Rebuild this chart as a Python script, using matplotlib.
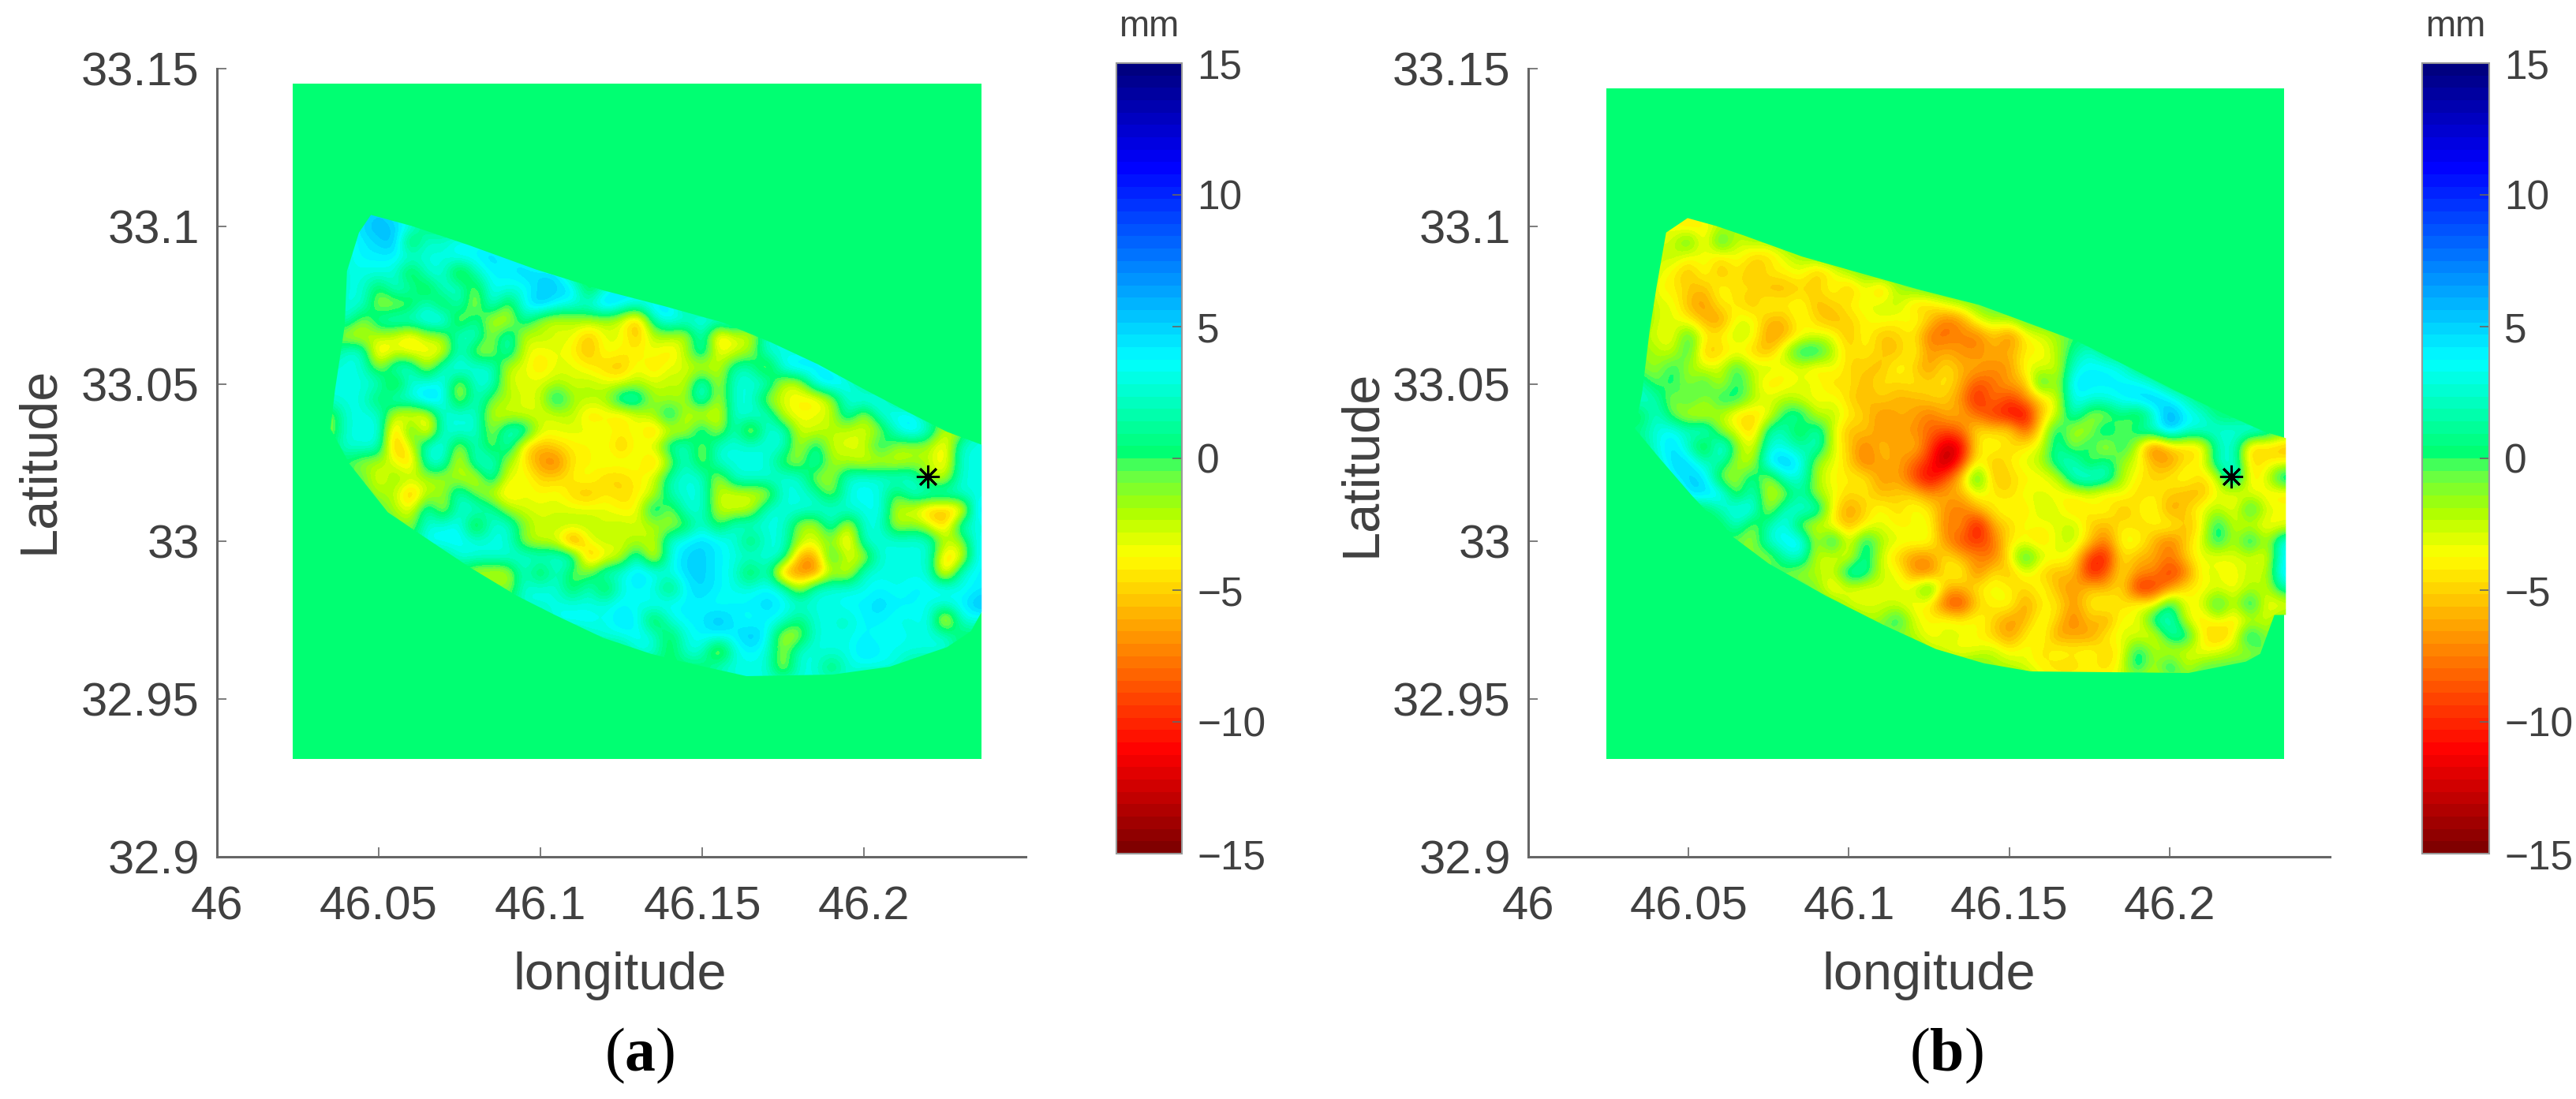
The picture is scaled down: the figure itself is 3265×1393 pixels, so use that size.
import numpy as np
import matplotlib
matplotlib.use("Agg")
import matplotlib.pyplot as plt
from matplotlib.colors import LinearSegmentedColormap, Normalize
from matplotlib.patches import Polygon

W, H = 3265, 1393
plt.rcParams["font.family"] = ["Liberation Sans", "DejaVu Sans"]
plt.rcParams["mathtext.fontset"] = "custom"
plt.rcParams["mathtext.bf"] = "Liberation Serif:bold"
plt.rcParams["mathtext.rm"] = "Liberation Serif"

# ================================
# Data
# ================================
x_ticks = [46, 46.05, 46.1, 46.15, 46.2]
x_labels = ["46", "46.05", "46.1", "46.15", "46.2"]
y_ticks = [32.9, 32.95, 33, 33.05, 33.1, 33.15]
y_labels = ["32.9", "32.95", "33", "33.05", "33.1", "33.15"]
cbar_ticks = [-15, -10, -5, 0, 5, 10, 15]

# grid of the estimated displacement (mm): lon 46.035..46.235, lat 33.105..32.955, step 0.005
grid_lon = (46.035, 46.235)
grid_lat = (33.105, 32.955)
n_cols = 41

# each row: index of first column, then the values (rest of the row is 0)
rows_a = [
    (2, [4, 5, 4]),
    (1, [3, 5, 6, 5, 4]),
    (1, [3, 4, 5, 6, -2, 3, 2, 4, 3, 4]),
    (1, [3, 4, 4, 4, 3, 3, 3, 4, 4, 5, 4, 4]),
    (1, [3, 3, 3, 3, -2, 3, 3, -3, 2, 4, 4, 5, 5, 5]),
    (1, [3, 3, -1, 3, 2, -2, 3, 3, -2, 4, 3, 3, 5, 5, 5, -2, 3, 5, 4]),
    (0, [3, 3, 3, -2, -2, -1, 3, -2, 3, -3, 4, -2, 4, 6, 4, 3, 3, 6, 4, 3, 5, 5]),
    (1, [3, -2, 2, 3, 3, 4, 5, -3, 2, -3, -3, 2, -2, -3, -2, -2, -2, -3, -7, 2, 4, 3, 4, 3, 5]),
    (1, [-3, -3, -2, -3, -5, -2, -2, 3, 3, -2, 3, -3, -2, -3, -3, -6, -3, -3, -6, -2, -2, -3, 3, -6, -3, -3, 3, 3]),
    (1, [3, 3, -6, -3, -4, -4, -4, 3, -2, -2, 3, -3, -4, -3, -4, -6, -3, -4, -4, -3, -5, -2, 3, -4, -3, -2, 3, 3, 3, 4]),
    (0, [3, 3, 3, -2, 3, 3, -3, 3, 4, 3, 3, -3, -3, -5, -3, -3, -4, -5, -6, -3, -5, -3, -3, -3, -3, 2, 2, -3, 4, 5, 4, 4]),
    (0, [3, 3, 3, 3, -3, 3, 3, 4, -3, 3, 3, -3, -3, -3, -2, -3, -2, -3, -3, -2, -3, -2, -3, 4, -3, 3, 3, 3, -3, -3, 4, 5, 4]),
    (0, [3, 3, 3, -1, 3, 3, 6, 4, -3, 3, -1, -2, -3, -3, 3, -2, -2, -2, 3, 3, -2, -2, -2, 4, -3, 3, 3, -2, -3, -4, -5, -2, 3, 4, 4]),
    (0, [-2, 3, 3, 3, -3, -4, -4, 3, 3, 3, -3, -3, -3, -3, -3, -2, -5, -4, -5, -3, -2, 3, -3, -3, -4, 3, 3, 3, -3, -4, -3, -3, 3, -3, 3, 4, 4]),
    (0, [-2, 3, 3, 4, -7, 2, -6, 3, 3, 3, -2, 3, 3, -3, -3, -3, -3, -3, -4, -3, -6, -3, -3, 3, -3, 3, -4, 3, 3, -3, -3, -2, -3, -3, -2, 3, 5, 3, -3, -2, 3]),
    (1, [3, 3, 3, -7, -3, 3, 4, -3, 3, -2, 3, -5, -6, -5, -4, -4, -3, -6, -3, -3, 2, 3, -2, 3, 3, 3, 3, 3, -3, 2, -3, -3, -3, 2, -2, -2, -2, -5, 3, 3]),
    (2, [-2, -2, -3, -6, 3, 3, -4, 3, 3, -2, -4, -7, -8, -4, -4, -3, -3, -3, -6, -2, 3, -2, 3, 3, 3, 3, -1, -2, 3, -2, -2, -3, -3, -3, -2, -2, -5, 3, 3]),
    (3, [-4, -1, -2, -2, -2, -2, -4, 3, -4, -3, -5, -5, -4, -3, -5, -5, -4, -3, 2, 3, 3, -3, 3, 3, 3, 3, 3, -2, -2, 3, 3, 3, 3, 3, -2, -3, 3, 3]),
    (3, [-2, -2, -7, -2, -2, 3, -1, -3, -5, -3, -4, -3, -5, -6, -4, -5, -4, -3, 2, 3, 3, -3, -3, -3, -3, 3, 3, 2, -2, 3, 4, 3, -1, 3, 3, 3, 3, 3]),
    (4, [-2, -4, 3, -3, 3, 3, 2, -2, -3, -3, -3, -3, -3, -3, -4, -4, 3, -2, 3, 3, -3, -3, -3, 3, 3, 3, 3, 3, 3, 3, 4, -3, -3, -6, -6, -6, 5]),
    (5, [-2, 3, 3, 4, -3, 3, 3, -1, -3, -2, -2, -2, -3, -2, -3, -2, -2, -1, 3, -1, 3, 3, 3, 3, -2, -3, 3, -4, 3, 3, -3, -1, -3, -6, 3, 3]),
    (6, [4, 4, 4, 3, 3, 3, -2, -3, -3, -9, -3, -2, -3, -2, -3, 3, 4, 5, 4, 3, -1, 3, 3, -2, -3, -1, -6, 3, 3, 3, 3, 3, -2, -2, 4]),
    (8, [3, 3, 3, 3, 3, 3, 3, 3, -7, -4, -3, 3, -5, 3, 5, 5, 4, 3, 3, 3, 3, -7, -7, 2, -3, -3, 3, 3, 3, 3, -6, -4, 4]),
    (9, [-3, -3, -3, 3, -2, 3, -1, -1, 3, 3, 5, 4, 3, 5, 5, 4, 3, -2, 3, -8, -7, -8, -2, -4, 3, 3, 3, 3, 3, -6, 3, 4]),
    (11, [-2, 3, 3, 3, -1, 3, -2, 3, 4, 3, -1, 4, 5, 4, 3, 3, 4, 3, -3, 3, 3, 3, 3, 4, 3, 4, 4, 4, 3, 4]),
    (12, [3, 3, 3, 3, 3, 3, 4, 3, 4, 4, 4, 4, 3, 4, 4, 5, 4, 3, 3, 3, 4, 4, 5, 4, 4, 3, 3, 4, 6]),
    (14, [4, 4, 4, 3, 5, 4, -2, 3, 4, 4, 6, 4, 3, 4, 3, 0, 3, 3, 2, 4, 4, 3, 3, 4, -6, 3, 3]),
    (16, [2, 3, 3, 4, 3, -1, 3, 4, 4, 4, 6, 4, -3, -2, 3, 3, 3, 4, 3, 4, 3, 3, 3]),
    (19, [3, 3, -1, 3, 3, -4, 3, 4, 3, -2, 3, 3, 3, 3, 5, 4, 3, 3, 3, 3]),
    (24, [3, 3, 3, 3, -3, 3, 3, -1, 3, 3, 3, 3]),
    (25, [3, 3, 3, 3, 3, 3, 3, 3]),
]

rows_b = [
    (2, [-3, -4, -3]),
    (1, [-3, -4, -5, -4, -3, -2]),
    (1, [-3, -3, 1, -5, 2, -3, -2, -2, -1]),
    (1, [-3, -2, -4, -3, -5, -3, -5, -5, -3, -2, -1]),
    (1, [-3, -4, -6, -3, -6, -4, -6, -4, -4, -3, -6, -4, -2, -1]),
    (1, [-4, -4, -5, -6, -3, -5, -4, -6, -6, -5, -5, -3, -6, -3, -6, -2, -1]),
    (1, [-3, -3, -6, -7, -4, -4, -6, -3, -4, -3, -6, -5, -4, -3, -3, -2, -5, -5, -3, -2, -1]),
    (1, [-3, -3, -4, -6, -7, -3, -3, -6, -6, -3, -5, -6, -5, -4, -3, -4, -3, -5, -8, -7, -3, -2, -2]),
    (0, [-2, -3, -4, 1, -4, -4, -2, -3, -7, -6, -4, -3, -3, -6, -3, -6, -5, -4, -8, -8, -7, -8, -5, -8, -4, -3, -2]),
    (0, [-1, -2, -3, 1, -6, -5, -4, -5, -6, -2, 2, 2, -2, -5, -4, -5, -6, -3, -7, -6, -7, -7, -6, -6, -4, -4, -2, 1, 3]),
    (0, [-1, -2, 1, -2, -3, -3, 1, -3, -2, -4, -3, -5, -3, -5, -5, -6, -3, -5, -7, -4, -6, -6, -7, -7, -3, -3, -3, 3, 4, 4, 3]),
    (0, [2, -1, 1, -2, 1, -3, 1, -2, -5, -4, -3, -3, -5, -4, -6, -4, -5, -4, -5, -4, -6, -9, -8, -6, -6, 2, -3, 5, 4, 4, 4, 4, 2]),
    (0, [3, 2, -2, 1, -2, 1, 1, -2, -3, -2, -3, -4, -3, -5, -6, -5, -6, -6, -5, -5, -7, -11, -7, -10, -7, -5, -3, 4, 3, 3, 4, 5, 6, 4, 2]),
    (0, [-1, 3, -1, -3, -3, -2, -5, -5, -4, 1, 2, -3, -2, -4, -5, -7, -6, -6, -8, -6, -6, -8, -10, -11, -12, -5, -3, 3, -2, -2, 1, -2, 2, 7, 4, 3]),
    (0, [1, 3, 4, 2, 4, -2, -3, -6, 2, 2, -2, 3, -3, -6, -5, -7, -6, -7, -8, -9, -8, -4, -5, -4, -9, -4, 2, -3, -2, 3, -2, 2, 3, 6, 3, 3, 3, 3, 4, 3]),
    (0, [0, 3, 5, 2, -3, 5, -1, -4, 3, 3, 1, 3, -3, -5, -8, -5, -7, -5, -9, -13, -12, -4, -3, -5, -4, -3, 2, -2, 2, -4, 2, -3, -9, -5, -5, -5, 2, 3, -6, -5, -6]),
    (1, [2, 5, 5, 2, 2, -2, -3, 5, 6, 4, -2, -3, -5, -8, -6, -6, -8, -10, -14, -10, -3, -6, -4, -3, -2, 2, 3, -2, 2, -2, -3, -6, -7, -4, -4, 3, 3, -5, -4, -4]),
    (2, [4, 5, 5, -2, -2, 2, -3, 3, 3, -2, -4, -4, -4, -7, -6, -9, -12, -9, -5, 2, -6, -5, -4, -4, -3, 3, 4, 3, -2, -4, -5, -4, -3, -5, -3, 5, -5, -3, 3]),
    (3, [5, 5, 5, -2, 3, -3, -2, 2, -2, -3, -5, -4, -6, -5, -5, -7, -6, -6, -3, -4, -5, -3, -3, -4, -4, -3, -5, -3, -5, -4, -5, -6, -6, -3, -4, -3, -4, -5]),
    (3, [0, -1, 2, 4, 4, -3, 3, 3, 3, -4, -7, -5, -3, -5, -3, -4, -7, -8, -6, -4, -3, -5, -2, -3, -5, -4, -3, -6, -4, -3, -7, -5, -3, -2, -4, 2, -3, -3]),
    (4, [0, -1, 3, -2, 2, 4, -2, -3, -4, -6, -4, -3, -4, -4, -3, -8, -6, -12, -6, -5, -3, -4, -3, -2, -5, -6, -4, -5, -4, -3, -6, -4, 2, -3, -3, -4, -4]),
    (5, [0, -1, -2, 3, 4, 5, -3, 3, -4, 2, -2, -3, -3, -3, -7, -9, -10, -8, -4, -4, -5, -3, -2, -5, -8, -3, -3, -6, -8, -5, -3, 2, -3, 3, -3, 4]),
    (7, [-1, -2, 2, 3, -3, -3, -4, 2, -3, -5, -7, -7, -4, -6, -7, -8, -4, 2, -3, -3, -4, -10, -11, -4, -6, -6, -8, -5, -3, -4, -3, -3, -4, 4]),
    (9, [-1, -2, -2, -3, 3, 2, -3, -3, -7, -8, -4, -3, -8, -4, -6, -3, -5, -6, -5, -11, -9, -4, -7, -7, -10, -8, -3, -3, -4, -2, -3, 5]),
    (11, [-1, -5, -3, -4, -3, -3, -3, 2, -6, -6, -4, -3, -4, -5, -3, -6, -7, -5, -6, -4, -11, -10, -7, -4, -4, -3, -4, -2, -3, 2]),
    (13, [-3, -3, -3, -3, -4, -4, -9, -10, -5, -4, -3, -7, -4, -4, -7, -4, -3, -5, -3, -4, 2, -4, -3, 2, -3, 3, -4, -4]),
    (14, [-2, -2, 2, -3, -4, -3, -4, -3, -5, -7, -6, -3, -5, -8, -5, -7, -3, -4, 2, 3, -3, -5, -3, -5, -3, -3]),
    (16, [-2, -2, -4, -3, -3, -4, -5, -7, -4, -3, -7, -6, -7, -4, -3, -3, -4, 2, 2, -4, -6, -4, 3, -2]),
    (18, [-2, -3, -4, -3, -2, -4, -3, -5, -3, -4, -3, -5, -4, 2, -2, -3, -3, -4, -3, -2, -2]),
    (22, [-2, -2, -3, -4, -5, -5, -4, -5, -3, 2, -3, 3, -3]),
    (25, [-3, -3, -3, -3, -3, -3, -3, -3, -3]),
]

# outline of the covered area (lon, lat)
outline_a = [
    (46.0476, 33.1036), (46.0602, 33.1001), (46.0779, 33.0940), (46.0986, 33.0863),
    (46.1193, 33.0797), (46.1385, 33.0746), (46.1563, 33.0695), (46.1710, 33.0633),
    (46.1858, 33.0562), (46.2006, 33.0480), (46.2139, 33.0409), (46.2257, 33.0348),
    (46.2364, 33.0307), (46.2364, 32.9777), (46.2331, 32.9716), (46.2257, 32.9665),
    (46.2080, 32.9603), (46.1903, 32.9578), (46.1637, 32.9573), (46.1459, 32.9614),
    (46.1341, 32.9644), (46.1193, 32.9695), (46.1045, 32.9767), (46.0927, 32.9828),
    (46.0779, 32.9920), (46.0646, 33.0011), (46.0528, 33.0093), (46.0410, 33.0246),
    (46.0351, 33.0358), (46.0365, 33.0481), (46.0395, 33.0685), (46.0402, 33.0858),
    (46.0439, 33.0980),
]
outline_b = [
    (46.0497, 33.1026), (46.0586, 33.1001), (46.0675, 33.0970), (46.0854, 33.0904),
    (46.1048, 33.0848), (46.1226, 33.0797), (46.1405, 33.0751), (46.1568, 33.0690),
    (46.1717, 33.0633), (46.1866, 33.0557), (46.2015, 33.0480), (46.2163, 33.0409),
    (46.2297, 33.0348), (46.2363, 33.0328), (46.2363, 32.9767), (46.2327, 32.9767),
    (46.2283, 32.9644), (46.2238, 32.9619), (46.2059, 32.9583), (46.1568, 32.9588),
    (46.1420, 32.9614), (46.1271, 32.9659), (46.1107, 32.9736), (46.0928, 32.9828),
    (46.0750, 32.9930), (46.0616, 33.0032), (46.0512, 33.0144), (46.0408, 33.0266),
    (46.0333, 33.0358), (46.0355, 33.0470), (46.0378, 33.0664), (46.0400, 33.0807),
    (46.0430, 33.0980),
]

# reference station and extent of the green frame
star_a = (46.2198, 33.0205)
star_b = (46.2193, 33.0205)
frame_a = (46.0235, 46.2363, 32.931, 33.145)
frame_b = (46.0243, 46.2355, 32.931, 33.1435)


def build_grid(rows):
    out = np.zeros((len(rows), n_cols))
    for i, (start, vals) in enumerate(rows):
        out[i, start:start + len(vals)] = vals
    return out


# ================================
# Colormap: jet reversed, with the step just under 0 seen in the colorbar
# ================================
stops = [
    (-15, "#800000"), (-11.25, "#ff0000"), (-7.5, "#ff8000"), (-3.75, "#ffff00"),
    (-2, "#aaff00"), (-0.3, "#55ff55"), (0, "#00ff69"), (3.75, "#00ffff"),
    (11.25, "#0000ff"), (15, "#000080"),
]
cmap = LinearSegmentedColormap.from_list("map", [((v + 15) / 30, c) for v, c in stops], N=64)
norm = Normalize(-15, 15)

TEXT = "#404040"
LINE = "#666666"


def box(x0, y0, x1, y1):
    return [x0 / W, 1 - y1 / H, (x1 - x0) / W, (y1 - y0) / H]


def draw_panel(ax_box, cax_box, rows, outline, star, frame, tag, lon_c, lat_y_c, tag_c):
    ax = fig.add_axes(box(*ax_box))
    ax.imshow(np.zeros((2, 2)), extent=frame, cmap=cmap, norm=norm, aspect="auto")
    half = 0.0025
    im = ax.imshow(
        build_grid(rows),
        extent=(grid_lon[0] - half, grid_lon[1] + half, grid_lat[1] - half, grid_lat[0] + half),
        cmap=cmap, norm=norm, aspect="auto", interpolation="bicubic",
    )
    clip = Polygon(outline, transform=ax.transData, fill=False, edgecolor="none")
    ax.add_patch(clip)
    im.set_clip_path(clip)
    ax.plot(*star, marker=(8, 2, 0), ms=21, mew=2, color="black", ls="none")

    ax.set_xlim(46, 46.25)
    ax.set_ylim(32.9, 33.15)
    ax.set_xticks(x_ticks, x_labels)
    ax.set_yticks(y_ticks, y_labels)
    ax.spines["top"].set_visible(False)
    ax.spines["right"].set_visible(False)
    for s in ("left", "bottom"):
        ax.spines[s].set_color(LINE)
        ax.spines[s].set_linewidth(2.2)
    ax.tick_params(axis="x", direction="in", length=8.5, width=1.2, color=LINE,
                   labelsize=43, labelcolor=TEXT, pad=26)
    ax.tick_params(axis="y", direction="in", length=8.5, width=1.2, color=LINE,
                   labelsize=43, labelcolor=TEXT, pad=16)

    cax = fig.add_axes(box(*cax_box))
    cb = fig.colorbar(im, cax=cax, ticks=cbar_ticks)
    cb.outline.set_edgecolor("#999999")
    cb.outline.set_linewidth(1.5)
    cax.tick_params(direction="in", length=8.5, width=1.2, color=LINE,
                    labelsize=37, labelcolor=TEXT, pad=14)
    fig.text((cax_box[0] + cax_box[2]) / 2 / W, 1 - 34 / H, "mm", fontsize=33,
             color=TEXT, ha="center", va="center")

    fig.text(lon_c / W, 1 - 1237 / H, "longitude", fontsize=48, color=TEXT, ha="center", va="center")
    fig.text(lat_y_c[0] / W, 1 - lat_y_c[1] / H, "Latitude", fontsize=48, color=TEXT,
             rotation=90, ha="center", va="center")
    fig.text(tag_c / W, 1 - 1338 / H, "($\\mathbf{" + tag + "}$)", fontsize=56,
             family="Liberation Serif", color="black", ha="center", va="center")


fig = plt.figure(figsize=(W / 100, H / 100), dpi=100)
draw_panel((275, 87, 1300, 1086), (1415, 80, 1498, 1082), rows_a, outline_a, star_a, frame_a,
           "a", 786, (50, 583), 811)
draw_panel((1937, 87, 2953, 1086), (3070, 80, 3155, 1082), rows_b, outline_b, star_b, frame_b,
           "b", 2445, (1726, 587), 2467)

fig.savefig("out.png", dpi=100)
